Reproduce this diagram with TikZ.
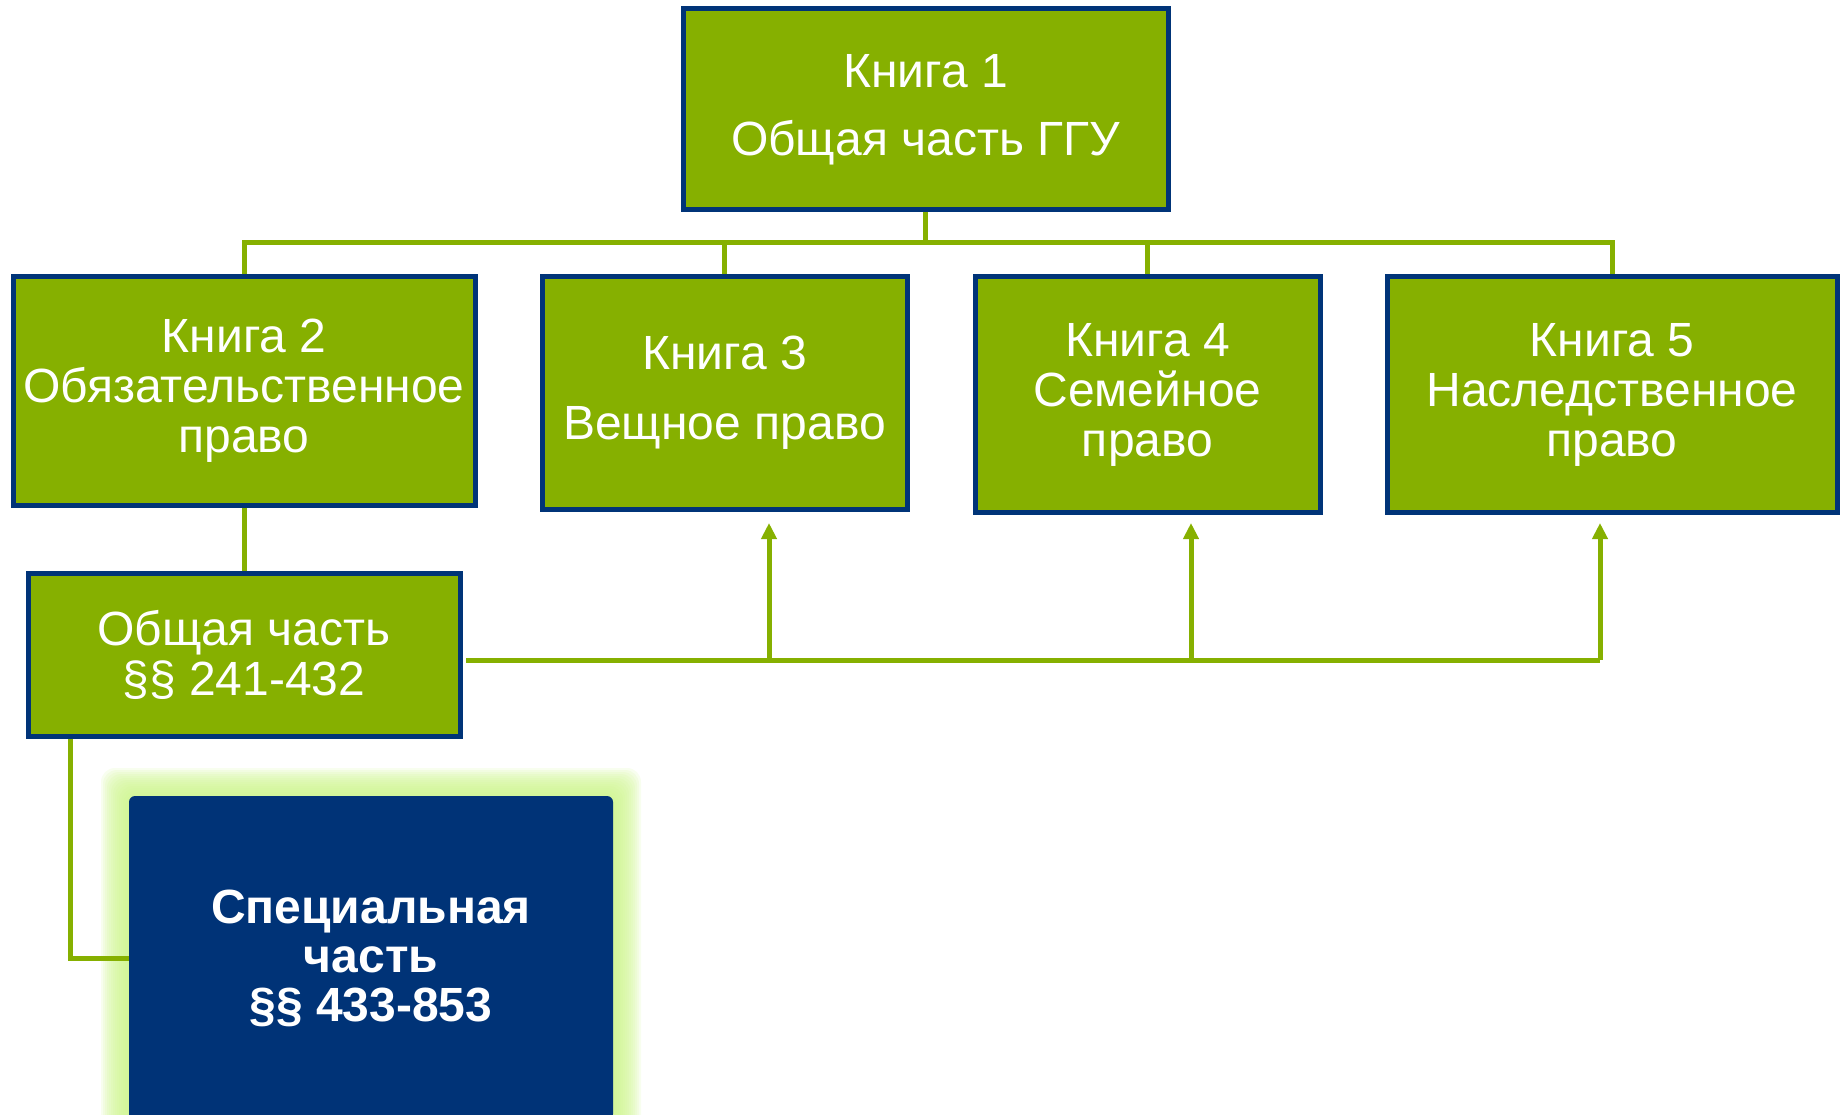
\documentclass[tikz,border=0pt]{standalone}
\usepackage{fontspec}
\setmainfont{Liberation Sans}
\usetikzlibrary{arrows.meta,calc}
\definecolor{bgreen}{RGB}{134,176,0}
\definecolor{bblue}{RGB}{0,52,120}
\definecolor{sblue}{RGB}{0,51,119}
\definecolor{glowc}{RGB}{205,245,140}
\tikzset{
  book/.style={draw=bblue, line width=5pt, fill=bgreen, text=white, align=center,
    font=\fontsize{48}{50}\selectfont, inner sep=0pt},
  link/.style={draw=bgreen, line width=5pt},
  arr/.style={draw=bgreen, line width=5pt, -{Triangle[width=15pt,length=16pt]}},
  special/.style={fill=sblue, rounded corners=6pt, text=white, align=center,
    font=\fontsize{48}{49}\selectfont\bfseries, inner sep=0pt}
}
\begin{document}
\begin{tikzpicture}[x=1pt,y=-1pt]
\useasboundingbox (0,0) rectangle (1840,1115);
\clip (0,0) rectangle (1840,1115);
% glow
\foreach \i in {1,...,14}{
  \fill[glowc, opacity=0.14, rounded corners=14pt]
    ({129-2*\i},{796-2*\i}) rectangle ({613+2*\i},{1120+2*\i});
}
\node[book, minimum width=485pt, minimum height=201pt] (b1) at (925.5,109.5)
  {Книга 1\\[18pt]Общая часть ГГУ};
\node[book, minimum width=462pt, minimum height=228pt] (b2) at (244,391)
  {Книга 2\\Обязательственное\\право};
\node[book, minimum width=365pt, minimum height=232pt] (b3) at (724.5,393)
  {Книга 3\\[20pt]Вещное право};
\node[book, minimum width=345pt, minimum height=235pt] (b4) at (1147.5,394.5)
  {Книга 4\\Семейное\\право};
\node[book, minimum width=450pt, minimum height=235pt] (b5) at (1612,394.5)
  {Книга 5\\Наследственное\\право};
\node[book, minimum width=432pt, minimum height=163pt] (ob) at (244,654.5)
  {Общая часть\\§§ 241-432};
\node[special, minimum width=484pt, minimum height=324pt] (sp) at (371,958)
  {Специальная\\часть\\§§ 433-853};
% tree connectors
\coordinate (bus) at (0,243);
\draw[link] (b1.south) -- (b1.south |- bus);
\draw[link] (b2.north) -- (b2.north |- bus) -| (b5.north);
\draw[link] (b3.north) -- (b3.north |- bus);
\draw[link] (b4.north) -- (b4.north |- bus);
\draw[link] (b2.south) -- (ob.north);
\draw[link] ($(ob.south west)+(45,0)$) |- (sp.west);
% arrows
\coordinate (lstart) at (466,660);
\coordinate (a3) at (769,660);
\coordinate (a4) at (1191,660);
\coordinate (a5) at (1600,660);
\draw[link] (lstart) -- (a5);
\draw[arr] (a3) -- ++(0,-137);
\draw[arr] (a4) -- ++(0,-137);
\draw[arr] (a5) -- ++(0,-137);
\end{tikzpicture}
\end{document}
